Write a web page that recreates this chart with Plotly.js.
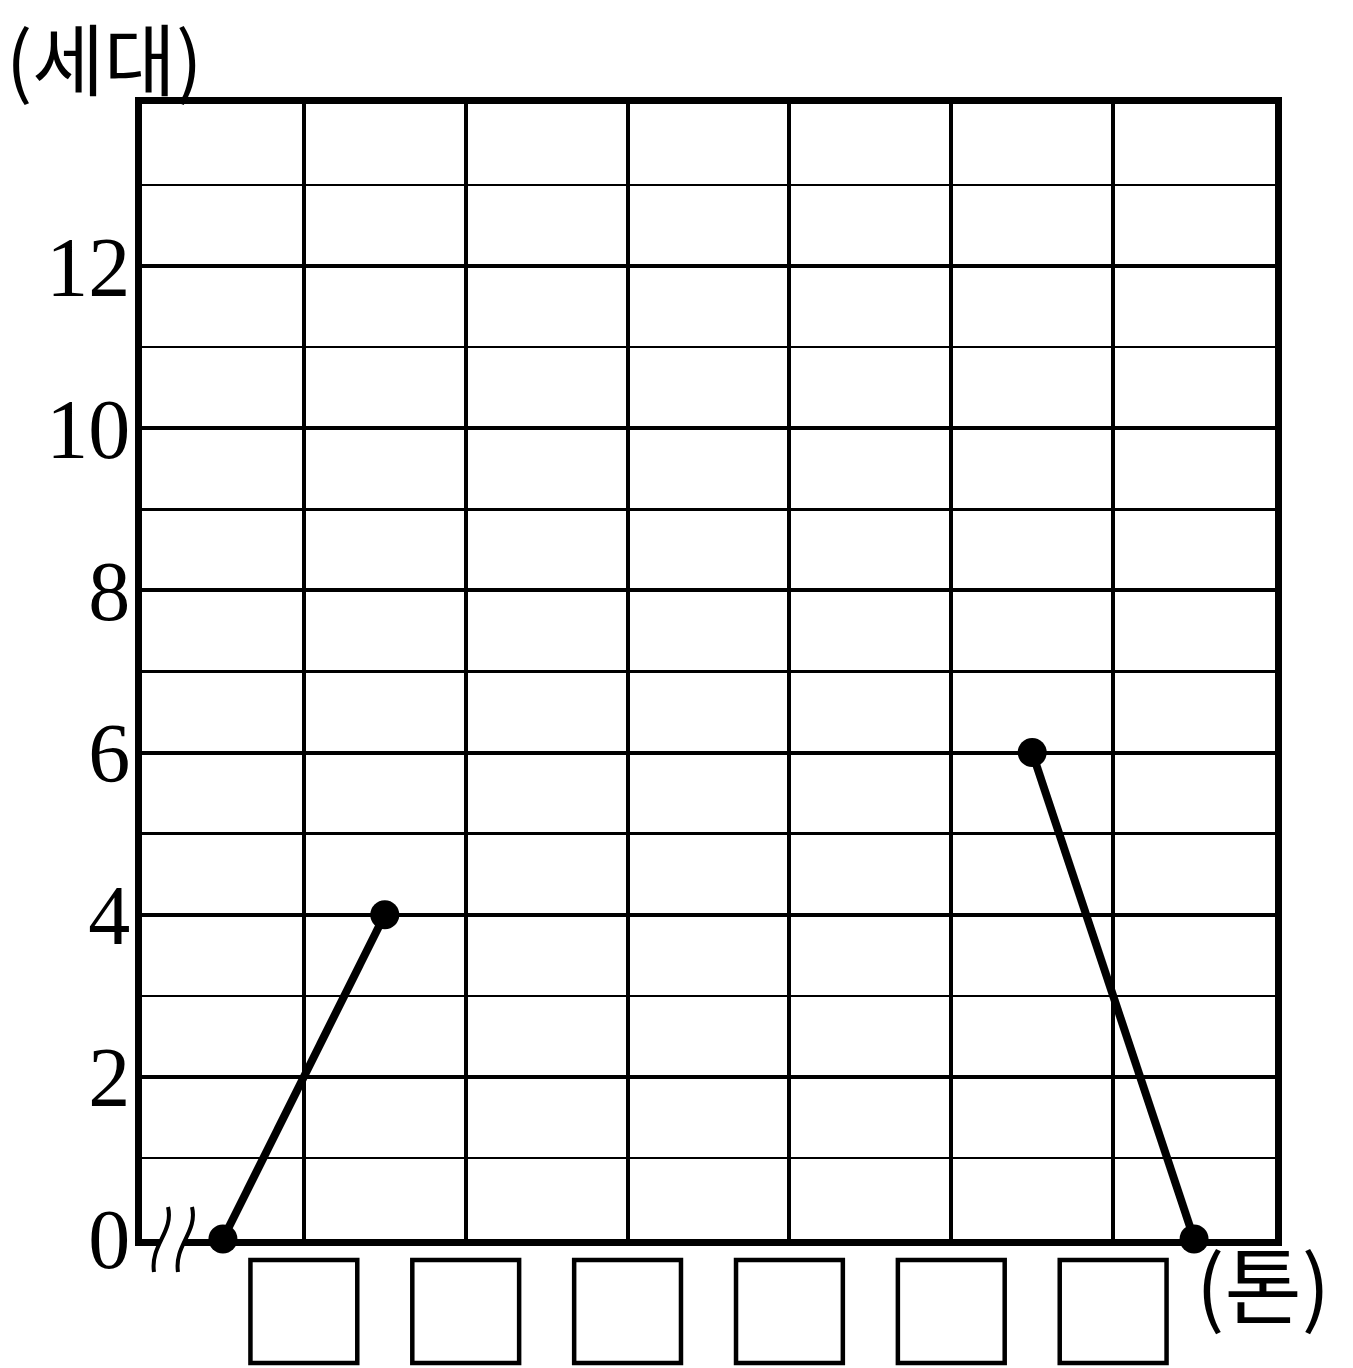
<!DOCTYPE html>
<html>
<head>
<meta charset="utf-8">
<script src="https://cdn.plot.ly/plotly-3.0.1.min.js"></script>
<style>html,body{margin:0;padding:0;background:#fff;}#chart{width:1353px;height:1368px;}</style>
</head>
<body>
<div id="chart"></div>
<script>
// Frequency polygon values (class midpoints on a 7-column grid)
const leftX = [0.5, 1.5];
const leftY = [0, 4];
const rightX = [5.5, 6.5];
const rightY = [6, 0];
// x tick positions where blank answer boxes sit
const boxTicks = [1, 2, 3, 4, 5, 6];
const yTickVals = [0, 2, 4, 6, 8, 10, 12];
const yTitle = '(세대)';
const xTitle = '(톤)';

const W = 1353, H = 1368;
const L = 142, R = 78, T = 104, B = 129;
const PW = W - L - R, PH = H - T - B;
const px = x => (x - L) / PW;
const py = y => (H - B - y) / PH;

const lineStyle = {color: '#000', width: 8};
const markerStyle = {color: '#000', size: 29};

const traces = [
  {x: leftX, y: leftY, mode: 'lines+markers', line: lineStyle, marker: markerStyle, cliponaxis: false, hoverinfo: 'skip'},
  {x: rightX, y: rightY, mode: 'lines+markers', line: lineStyle, marker: markerStyle, cliponaxis: false, hoverinfo: 'skip'}
];

const shapes = boxTicks.map(t => ({
  type: 'rect', xref: 'x', yref: 'paper',
  x0: t - 0.33, x1: t + 0.33, y0: py(1363), y1: py(1260),
  line: {color: '#000', width: 4.5}, fillcolor: 'rgba(0,0,0,0)'
}));

function pathPx(d) {
  return d.replace(/(-?\d+(?:\.\d+)?)\s+(-?\d+(?:\.\d+)?)/g, (m, a, b) => px(+a).toFixed(5) + ',' + py(+b).toFixed(5));
}
// white gap between break marks
shapes.push({type: 'path', xref: 'paper', yref: 'paper', layer: 'above',
  path: pathPx('M 168 1207 C 174 1232 150 1245 154 1272 L 178 1272 C 174 1245 198 1232 192 1207 Z'),
  fillcolor: '#fff', line: {width: 0}});
['M 168 1207 C 174 1232 150 1245 154 1272', 'M 192 1207 C 198 1232 174 1245 178 1272'].forEach(d => {
  shapes.push({type: 'path', xref: 'paper', yref: 'paper', layer: 'above',
    path: pathPx(d), line: {color: '#000', width: 4}});
});

const layout = {
  width: W, height: H,
  margin: {l: L, r: R, t: T, b: B, pad: 0},
  paper_bgcolor: '#fff', plot_bgcolor: '#fff',
  showlegend: false,
  xaxis: {
    range: [0, 7], tickvals: boxTicks, ticktext: boxTicks.map(() => ''),
    showgrid: true, gridcolor: '#000', gridwidth: 4,
    showline: true, mirror: true, linecolor: '#000', linewidth: 7,
    zeroline: false, ticks: '', fixedrange: true
  },
  yaxis: {
    range: [0, 14], tickvals: yTickVals, ticktext: yTickVals.map(String),
    showgrid: true, gridcolor: '#000', gridwidth: 4,
    minor: {dtick: 1, tick0: 0, showgrid: true, gridcolor: '#000', gridwidth: 2.5, ticks: ''},
    showline: true, mirror: true, linecolor: '#000', linewidth: 7,
    zeroline: false, ticks: '', ticklabelstandoff: -12,
    tickfont: {family: 'Liberation Serif, DejaVu Serif, serif', size: 84, color: '#000'},
    fixedrange: true
  },
  shapes: shapes,
  annotations: [
    {text: yTitle, xref: 'paper', yref: 'paper', x: px(4), y: py(-2), xanchor: 'left', yanchor: 'top',
     showarrow: false, font: {family: 'Noto Sans CJK KR', size: 78, color: '#000'}},
    {text: xTitle, xref: 'paper', yref: 'paper', x: px(1194), y: py(1219), xanchor: 'left', yanchor: 'top',
     showarrow: false, font: {family: 'Noto Sans CJK KR', size: 84, color: '#000'}}
  ]
};

Plotly.newPlot('chart', traces, layout, {displayModeBar: false, staticPlot: true});
</script>
</body>
</html>
